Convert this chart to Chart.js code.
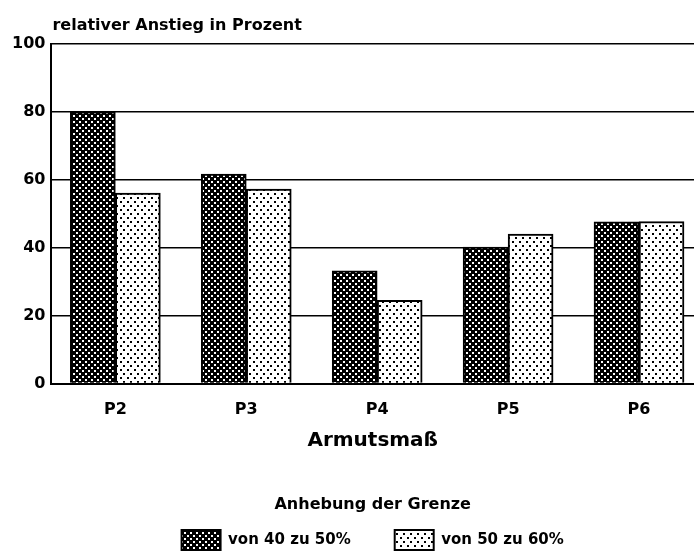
<!DOCTYPE html>
<html>
<head>
<meta charset="utf-8">
<script src="https://cdn.jsdelivr.net/npm/chart.js@4/dist/chart.umd.min.js"></script>
<style>
html,body{margin:0;padding:0;background:#fff;}
#wrap{width:694px;height:556px;position:relative;}
</style>
</head>
<body>
<div id="wrap"><canvas id="c"></canvas></div>
<script>
const categories = ["P2", "P3", "P4", "P5", "P6"];
const series40to50 = [80, 61.7, 33.2, 40.2, 47.6];
const series50to60 = [56.1, 57.3, 24.5, 44.0, 47.7];
const seriesNames = ["von 40 zu 50%", "von 50 zu 60%"];
const yTicks = [0, 20, 40, 60, 80, 100];
const yTitle = "relativer Anstieg in Prozent";
const xTitle = "Armutsmaß";
const legendTitle = "Anhebung der Grenze";

const FONT = '"DejaVu Sans", Verdana, sans-serif';

function makeDark() {
  const t = document.createElement('canvas');
  t.width = 6; t.height = 6;
  const g = t.getContext('2d');
  g.fillStyle = '#000'; g.fillRect(0, 0, 6, 6);
  g.fillStyle = '#fff';
  g.fillRect(1, 1, 2, 2);
  g.fillRect(4, 4, 2, 2);
  return g.createPattern(t, 'repeat');
}
function makeLight() {
  const t = document.createElement('canvas');
  t.width = 7; t.height = 8;
  const g = t.getContext('2d');
  g.fillStyle = '#fff'; g.fillRect(0, 0, 7, 8);
  g.fillStyle = '#000';
  g.fillRect(1, 1, 2, 2);
  g.fillRect(4, 5, 2, 2);
  return g.createPattern(t, 'repeat');
}
const ctx = document.getElementById('c').getContext('2d');
const darkPat = makeDark();
const lightPat = makeLight();

const toPts = arr => arr.map((v, i) => ({x: i, y: v}));

const titlePlugin = {
  id: 'yTitleTop',
  afterDraw(chart) {
    const c = chart.ctx;
    c.save();
    c.font = 'bold 16px ' + FONT;
    c.fillStyle = '#000';
    c.textAlign = 'left';
    c.textBaseline = 'middle';
    c.fillText(yTitle, chart.chartArea.left + 1, 26);
    c.restore();
  }
};

new Chart(ctx, {
  type: 'bar',
  data: {
    datasets: [
      {label: seriesNames[0], data: toPts(series40to50), backgroundColor: darkPat, borderColor: '#000', borderWidth: 2, barThickness: 45},
      {label: seriesNames[1], data: toPts(series50to60), backgroundColor: lightPat, borderColor: '#000', borderWidth: 2, barThickness: 45}
    ]
  },
  options: {
    responsive: true,
    maintainAspectRatio: false,
    animation: false,
    layout: {padding: {top: 44, left: 6, right: 0, bottom: -4}},
    scales: {
      x: {
        type: 'linear',
        offset: false,
        min: -0.4885,
        max: 4.42,
        afterBuildTicks: (scale) => { scale.ticks = categories.map((c, i) => ({value: i})); },
        ticks: {
          color: '#000',
          font: {family: FONT, size: 16, weight: 'bold'},
          padding: 17,
          maxRotation: 0,
          callback: (v) => categories[v] !== undefined ? categories[v] : ''
        },
        grid: {display: false, drawTicks: false},
        border: {display: true, color: '#000', width: 2},
        title: {display: true, text: xTitle, color: '#000', font: {family: FONT, size: 20, weight: 'bold'}, padding: {top: -8, bottom: 1}}
      },
      y: {
        min: 0, max: 100,
        afterBuildTicks: (scale) => { scale.ticks = yTicks.map(v => ({value: v})); },
        ticks: {
          color: '#000',
          font: {family: FONT, size: 16, weight: 'bold'},
          padding: 6
        },
        grid: {color: '#000', lineWidth: 1.5, drawTicks: false},
        border: {display: true, color: '#000', width: 2}
      }
    },
    plugins: {
      tooltip: {enabled: false},
      legend: {
        position: 'bottom',
        fullSize: false,
        title: {display: true, text: legendTitle, color: '#000', font: {family: FONT, size: 16, weight: 'bold'}, padding: {top: 43, bottom: -30}},
        labels: {
          color: '#000',
          boxWidth: 39, boxHeight: 20,
          padding: 44,
          font: {family: FONT, size: 15, weight: 'bold'}
        }
      }
    }
  },
  plugins: [titlePlugin]
});
</script>
</body>
</html>
